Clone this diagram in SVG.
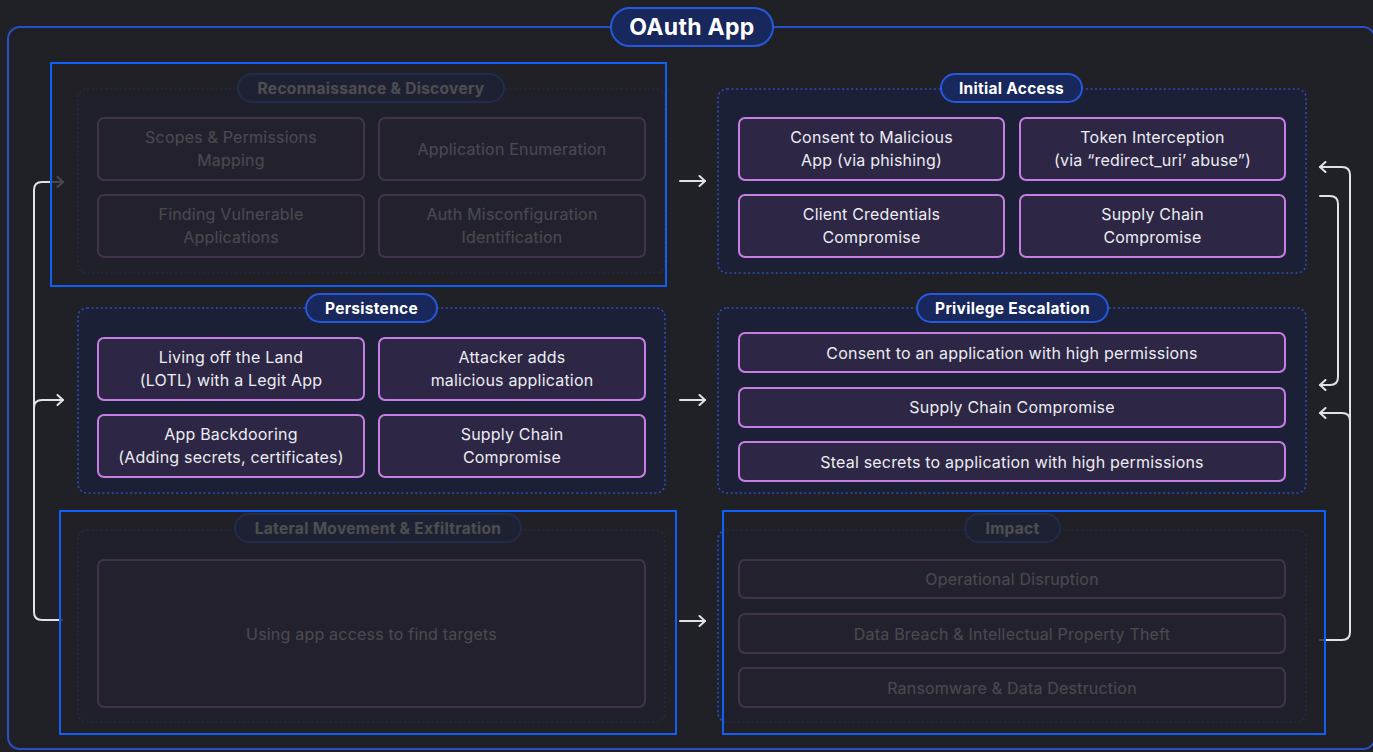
<svg xmlns="http://www.w3.org/2000/svg" width="1373" height="752" viewBox="0 0 1373 752">
  <defs>
    <style>
      .bg { fill: #202027; }
      .frame { fill: none; stroke: #2a50c4; stroke-width: 2; }
      .phase { fill: #1c2036; stroke: #2d4fb8; stroke-width: 1.6; stroke-dasharray: 2 2.6; }
      .pill { fill: #18275c; stroke: #2658dc; stroke-width: 2; }
      .pill-text { fill: #ffffff; font-family: Inter, "Open Sans", "Liberation Sans", sans-serif; font-weight: 700; font-size: 15.5px; letter-spacing: 0.3px; text-anchor: middle; dominant-baseline: central; }
      .title-text { fill: #ffffff; font-family: Inter, "Open Sans", "Liberation Sans", sans-serif; font-weight: 700; font-size: 23px; letter-spacing: 0.3px; text-anchor: middle; dominant-baseline: central; }
      .tech { fill: #2d2745; stroke: #c67ee2; stroke-width: 2; }
      .tech-text { fill: #ececf2; font-family: Inter, "Open Sans", "Liberation Sans", sans-serif; font-size: 16px; letter-spacing: 0.2px; text-anchor: middle; dominant-baseline: central; }
      .veil { fill: #202027; opacity: 0.8; }
      .focus { fill: none; stroke: #1060f5; stroke-width: 2; }
      .link { fill: none; stroke: #e2e2e6; stroke-width: 2; stroke-linecap: round; }
    </style>
    <marker id="head" markerUnits="userSpaceOnUse" markerWidth="10" markerHeight="12" refX="7" refY="6" orient="auto" viewBox="0 0 10 12">
      <path d="M1.5,1 L7,6 L1.5,11" fill="none" stroke="#e2e2e6" stroke-width="2" stroke-linecap="round" stroke-linejoin="round"/>
    </marker>
  </defs>

  <!-- canvas -->
  <rect class="bg" x="0" y="0" width="1373" height="752"/>

  <!-- outer container -->
  <g id="oauth-app">
    <rect class="frame" x="8" y="27" width="1367" height="722" rx="12"/>
    <rect class="pill" x="611" y="8" width="162" height="38" rx="19"/>
    <text class="title-text" x="692" y="27">OAuth App</text>
  </g>

  <!-- connectors -->
  <g id="connectors">
    <!-- column to column -->
    <path class="link" d="M680 181 L705 181" marker-end="url(#head)"/>
    <path class="link" d="M680 400 L705 400" marker-end="url(#head)"/>
    <path class="link" d="M680 621 L705 621" marker-end="url(#head)"/>
    <!-- lateral movement loops back to recon and persistence -->
    <path class="link" d="M62 620 L42 620 Q34 620 34 612 L34 190 Q34 182 42 182 L63 182" marker-end="url(#head)"/>
    <path class="link" d="M34 408 Q34 400 42 400 L63 400" marker-end="url(#head)"/>
    <!-- impact loops back to initial access and privilege escalation -->
    <path class="link" d="M1320 640 L1342 640 Q1350 640 1350 632 L1350 175 Q1350 167 1342 167 L1320 167" marker-end="url(#head)"/>
    <path class="link" d="M1350 421 Q1350 413 1342 413 L1320 413" marker-end="url(#head)"/>
    <!-- initial access to privilege escalation -->
    <path class="link" d="M1320 196 L1330 196 Q1338 196 1338 204 L1338 377 Q1338 385 1330 385 L1320 385" marker-end="url(#head)"/>
  </g>

  <!-- Reconnaissance & Discovery (dimmed) -->
  <g id="recon">
    <rect class="phase" x="78" y="89" width="587" height="184" rx="9"/>
    <rect class="pill" x="238" y="74" width="266" height="28" rx="14"/>
    <text class="pill-text" x="371" y="88">Reconnaissance &amp; Discovery</text>
    <rect class="tech" x="98" y="118" width="266" height="62" rx="6"/>
    <text class="tech-text" x="231" y="137">Scopes &amp; Permissions</text>
    <text class="tech-text" x="231" y="160">Mapping</text>
    <rect class="tech" x="379" y="118" width="266" height="62" rx="6"/>
    <text class="tech-text" x="512" y="149">Application Enumeration</text>
    <rect class="tech" x="98" y="195" width="266" height="62" rx="6"/>
    <text class="tech-text" x="231" y="214">Finding Vulnerable</text>
    <text class="tech-text" x="231" y="237">Applications</text>
    <rect class="tech" x="379" y="195" width="266" height="62" rx="6"/>
    <text class="tech-text" x="512" y="214">Auth Misconfiguration</text>
    <text class="tech-text" x="512" y="237">Identification</text>
    <rect class="veil" x="51" y="63" width="615" height="223"/>
    <rect class="focus" x="51" y="63" width="615" height="223"/>
  </g>

  <!-- Initial Access -->
  <g id="initial-access">
    <rect class="phase" x="718" y="89" width="588" height="184" rx="9"/>
    <rect class="pill" x="941" y="74" width="141" height="28" rx="14"/>
    <text class="pill-text" x="1011.5" y="88">Initial Access</text>
    <rect class="tech" x="739" y="118" width="265" height="62" rx="6"/>
    <text class="tech-text" x="871.5" y="137">Consent to Malicious</text>
    <text class="tech-text" x="871.5" y="160">App (via phishing)</text>
    <rect class="tech" x="1020" y="118" width="265" height="62" rx="6"/>
    <text class="tech-text" x="1152.5" y="137">Token Interception</text>
    <text class="tech-text" x="1152.5" y="160">(via “redirect_uri’ abuse”)</text>
    <rect class="tech" x="739" y="195" width="265" height="62" rx="6"/>
    <text class="tech-text" x="871.5" y="214">Client Credentials</text>
    <text class="tech-text" x="871.5" y="237">Compromise</text>
    <rect class="tech" x="1020" y="195" width="265" height="62" rx="6"/>
    <text class="tech-text" x="1152.5" y="214">Supply Chain</text>
    <text class="tech-text" x="1152.5" y="237">Compromise</text>
  </g>

  <!-- Persistence -->
  <g id="persistence">
    <rect class="phase" x="78" y="308" width="587" height="185" rx="9"/>
    <rect class="pill" x="306" y="294" width="131" height="28" rx="14"/>
    <text class="pill-text" x="371.5" y="308">Persistence</text>
    <rect class="tech" x="98" y="338" width="266" height="62" rx="6"/>
    <text class="tech-text" x="231" y="357">Living off the Land</text>
    <text class="tech-text" x="231" y="380">(LOTL) with a Legit App</text>
    <rect class="tech" x="379" y="338" width="266" height="62" rx="6"/>
    <text class="tech-text" x="512" y="357">Attacker adds</text>
    <text class="tech-text" x="512" y="380">malicious application</text>
    <rect class="tech" x="98" y="415" width="266" height="62" rx="6"/>
    <text class="tech-text" x="231" y="434">App Backdooring</text>
    <text class="tech-text" x="231" y="457">(Adding secrets, certificates)</text>
    <rect class="tech" x="379" y="415" width="266" height="62" rx="6"/>
    <text class="tech-text" x="512" y="434">Supply Chain</text>
    <text class="tech-text" x="512" y="457">Compromise</text>
  </g>

  <!-- Privilege Escalation -->
  <g id="privilege-escalation">
    <rect class="phase" x="718" y="308" width="588" height="185" rx="9"/>
    <rect class="pill" x="917" y="294" width="191" height="28" rx="14"/>
    <text class="pill-text" x="1012.5" y="308">Privilege Escalation</text>
    <rect class="tech" x="739" y="333" width="546" height="39" rx="6"/>
    <text class="tech-text" x="1012" y="352.5">Consent to an application with high permissions</text>
    <rect class="tech" x="739" y="388" width="546" height="39" rx="6"/>
    <text class="tech-text" x="1012" y="407">Supply Chain Compromise</text>
    <rect class="tech" x="739" y="442" width="546" height="39" rx="6"/>
    <text class="tech-text" x="1012" y="461.5">Steal secrets to application with high permissions</text>
  </g>

  <!-- Lateral Movement & Exfiltration (dimmed) -->
  <g id="lateral-movement">
    <rect class="phase" x="78" y="530" width="587" height="192" rx="9"/>
    <rect class="pill" x="235" y="514" width="286" height="28" rx="14"/>
    <text class="pill-text" x="378" y="528">Lateral Movement &amp; Exfiltration</text>
    <rect class="tech" x="98" y="560" width="547" height="147" rx="6"/>
    <text class="tech-text" x="371.5" y="633.5">Using app access to find targets</text>
    <rect class="veil" x="60" y="511" width="616" height="223"/>
    <rect class="focus" x="60" y="511" width="616" height="223"/>
  </g>

  <!-- Impact (dimmed) -->
  <g id="impact">
    <rect class="phase" x="718" y="530" width="588" height="192" rx="9"/>
    <rect class="pill" x="965" y="514" width="95" height="28" rx="14"/>
    <text class="pill-text" x="1012.5" y="528">Impact</text>
    <rect class="tech" x="739" y="560" width="546" height="38" rx="6"/>
    <text class="tech-text" x="1012" y="579">Operational Disruption</text>
    <rect class="tech" x="739" y="614" width="546" height="39" rx="6"/>
    <text class="tech-text" x="1012" y="633.5">Data Breach &amp; Intellectual Property Theft</text>
    <rect class="tech" x="739" y="668" width="546" height="39" rx="6"/>
    <text class="tech-text" x="1012" y="687.5">Ransomware &amp; Data Destruction</text>
    <rect class="veil" x="723" y="511" width="602" height="223"/>
    <rect class="focus" x="723" y="511" width="602" height="223"/>
  </g>
</svg>
